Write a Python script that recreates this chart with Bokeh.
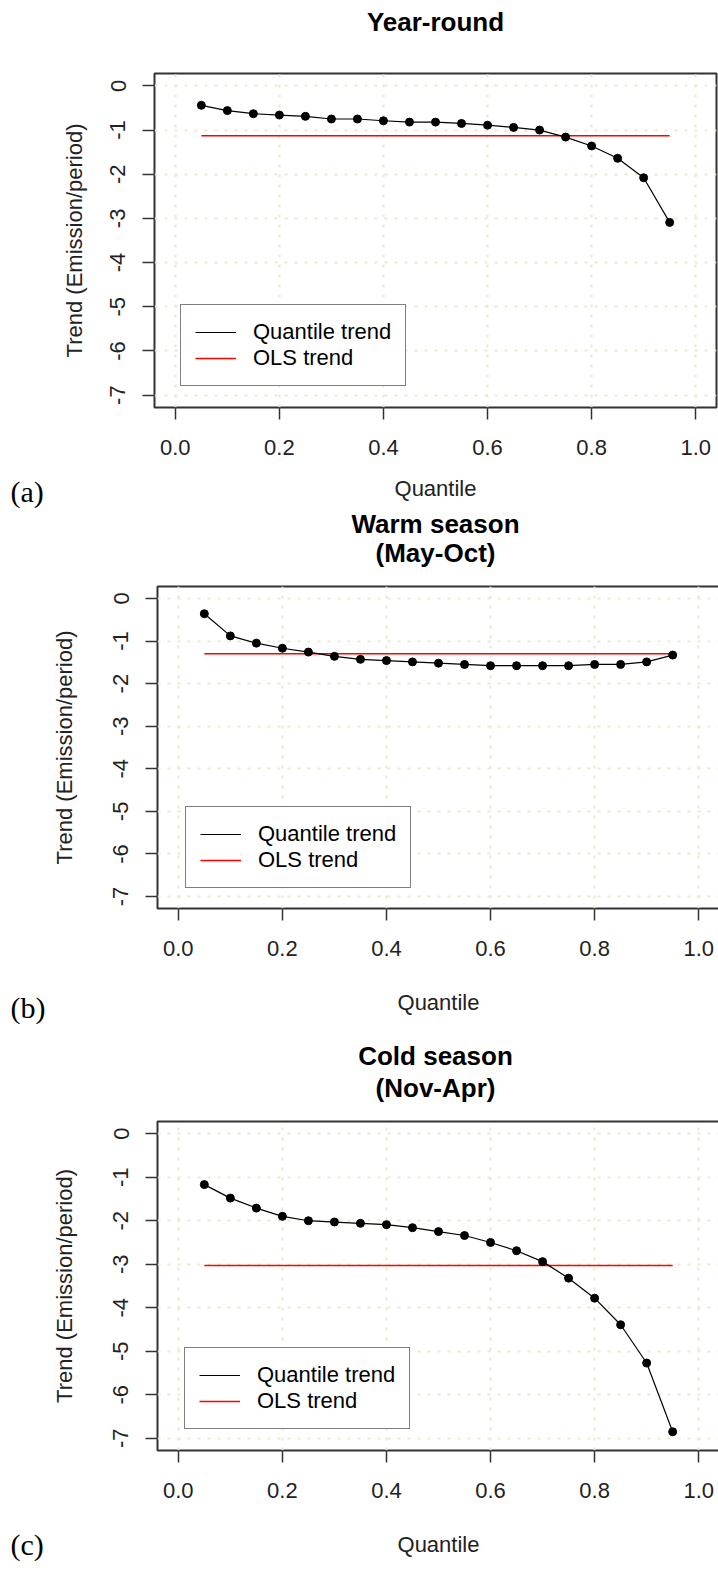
from bokeh.plotting import figure
from bokeh.models import Label, Legend, LegendItem, FixedTicker
from bokeh.layouts import column, row
from bokeh.embed import file_html
from bokeh.resources import INLINE

# ---------------- data ----------------
quantiles = [0.05, 0.10, 0.15, 0.20, 0.25, 0.30, 0.35, 0.40, 0.45, 0.50,
             0.55, 0.60, 0.65, 0.70, 0.75, 0.80, 0.85, 0.90, 0.95]
year_round = [-0.44, -0.56, -0.63, -0.66, -0.69, -0.75, -0.75, -0.79, -0.82, -0.82,
              -0.85, -0.89, -0.94, -1.00, -1.16, -1.36, -1.64, -2.08, -3.09]
warm_season = [-0.36, -0.88, -1.05, -1.17, -1.26, -1.36, -1.43, -1.46, -1.49, -1.52,
               -1.55, -1.58, -1.58, -1.58, -1.58, -1.55, -1.55, -1.49, -1.33]
cold_season = [-1.17, -1.48, -1.71, -1.90, -2.00, -2.03, -2.06, -2.09, -2.16, -2.25,
               -2.34, -2.50, -2.69, -2.94, -3.32, -3.78, -4.39, -5.27, -6.85]
ols_year_round = -1.13
ols_warm_season = -1.30
ols_cold_season = -3.03

titles_year_round = ["Year-round"]
titles_warm_season = ["Warm season", "(May-Oct)"]
titles_cold_season = ["Cold season", "(Nov-Apr)"]
panel_tags = ["(a)", "(b)", "(c)"]

x_ticks = [0.0, 0.2, 0.4, 0.6, 0.8, 1.0]
x_tick_labels = ["0.0", "0.2", "0.4", "0.6", "0.8", "1.0"]
y_ticks = [0, -1, -2, -3, -4, -5, -6, -7]
y_tick_labels = ["0", "-1", "-2", "-3", "-4", "-5", "-6", "-7"]
x_label = "Quantile"
y_label = "Trend (Emission/period)"
legend_labels = ["Quantile trend", "OLS trend"]

# ---------------- style / layout ----------------
SANS = "Liberation Sans"
SERIF = "Liberation Serif"
GRID = "#EFE8CF"
BOX = "#333333"
TAG_W = 48
BORDER_L = 106
FRAME_W = 562
BORDER_R = 2
TOTAL_W = TAG_W + BORDER_L + FRAME_W + BORDER_R
FRAME_CX = TAG_W + BORDER_L + FRAME_W / 2


def blank_fig(width, height):
    f = figure(width=width, height=height, x_range=(0, 1), y_range=(0, 1),
               x_axis_type=None, y_axis_type=None,
               min_border_left=0, min_border_right=0, min_border_top=0, min_border_bottom=0,
               output_backend="svg", toolbar_location=None,
               background_fill_color="white", border_fill_color="white")
    f.frame_align = False
    f.outline_line_color = None
    f.grid.visible = False
    return f


def title_fig(lines, ys_from_top, height):
    f = blank_fig(TOTAL_W, height)
    for text, ty in zip(lines, ys_from_top):
        f.add_layout(Label(x=FRAME_CX, y=height - ty, x_units="screen", y_units="screen",
                           text=text, text_align="center", text_baseline="middle",
                           text_font=SANS, text_font_size="26px",
                           text_font_style="bold", text_color="black"))
    return f


def main_fig(values, ols, g):
    p = figure(frame_width=FRAME_W, frame_height=g["fh"],
               min_border_top=g["bt"], min_border_bottom=g["bb"],
               min_border_left=BORDER_L, min_border_right=BORDER_R,
               x_range=(-0.04, 1.04), y_range=(-7.28, 0.28),
               output_backend="svg", toolbar_location=None,
               background_fill_color="white", border_fill_color="white")
    p.frame_align = False
    p.outline_line_color = BOX
    p.outline_line_width = 2
    p.outline_line_alpha = 1.0

    for ax, ticks, labels in ((p.xaxis[0], x_ticks, x_tick_labels),
                              (p.yaxis[0], y_ticks, y_tick_labels)):
        ax.ticker = FixedTicker(ticks=ticks)
        ax.major_label_overrides = {t: l for t, l in zip(ticks, labels)}
        ax.axis_line_color = None
        ax.major_tick_line_color = BOX
        ax.major_tick_line_width = 1.5
        ax.major_tick_out = 12
        ax.major_tick_in = 0
        ax.minor_tick_line_color = None
        ax.major_label_text_font = SANS
        ax.major_label_text_font_size = "22px"
        ax.major_label_text_color = "#222222"
        ax.axis_label_text_font = SANS
        ax.axis_label_text_font_size = "22px"
        ax.axis_label_text_font_style = "normal"
        ax.axis_label_text_color = "#222222"
    p.xaxis.axis_label = x_label
    p.yaxis.axis_label = y_label
    p.xaxis.major_label_standoff = 20
    p.yaxis.major_label_standoff = 17
    p.yaxis.major_label_orientation = "vertical"
    p.xaxis.axis_label_standoff = g["xls"]
    p.yaxis.axis_label_standoff = g["yls"]

    p.xgrid.ticker = FixedTicker(ticks=x_ticks)
    p.ygrid.ticker = FixedTicker(ticks=y_ticks)
    for gr in (p.xgrid[0], p.ygrid[0]):
        gr.grid_line_color = GRID
        gr.grid_line_width = 2
        gr.grid_line_dash = "3 7"

    ols_r = p.line([quantiles[0], quantiles[-1]], [ols, ols],
                   line_color="red", line_width=1.6)
    q_r = p.line(quantiles, values, line_color="black", line_width=1.2)
    p.scatter(quantiles, values, size=8, color="black")

    legend = Legend(items=[LegendItem(label=legend_labels[0], renderers=[q_r]),
                           LegendItem(label=legend_labels[1], renderers=[ols_r])],
                    location=(g["lx"], g["ly"]),
                    border_line_color="black", border_line_width=1.5,
                    background_fill_color="white", background_fill_alpha=1.0,
                    label_text_font=SANS, label_text_font_size="22px",
                    label_text_color="black",
                    glyph_width=41, glyph_height=20, label_standoff=17,
                    padding=14, spacing=0, margin=0)
    p.add_layout(legend, "center")
    return p


def panel(title_lines, title_ys, title_h, tag, tag_y, values, ols, g):
    t = title_fig(title_lines, title_ys, title_h)
    m = main_fig(values, ols, g)
    row_h = g["bt"] + g["fh"] + g["bb"]
    tg = blank_fig(TAG_W, row_h)
    tg.add_layout(Label(x=10, y=tag_y, x_units="screen", y_units="screen",
                        text=tag, text_align="left", text_baseline="middle",
                        text_font=SERIF, text_font_size="30px", text_color="black"))
    return [t, row(tg, m, spacing=0)]


items = []
items += panel(titles_year_round, [21], 66, panel_tags[0], 17, year_round, ols_year_round,
               dict(bt=7, fh=334, bb=101, xls=18, yls=21, lx=26, ly=21))
items += panel(titles_warm_season, [15, 44], 71, panel_tags[1], 23, warm_season, ols_warm_season,
               dict(bt=7, fh=322, bb=122, xls=31, yls=34, lx=28, ly=20))
items += panel(titles_cold_season, [25, 57], 84, panel_tags[2], 24, cold_season, ols_cold_season,
               dict(bt=7, fh=329, bb=118, xls=31, yls=34, lx=27, ly=21))

layout = column(*items, spacing=0)
open("out.html", "w").write(file_html(layout, INLINE))
